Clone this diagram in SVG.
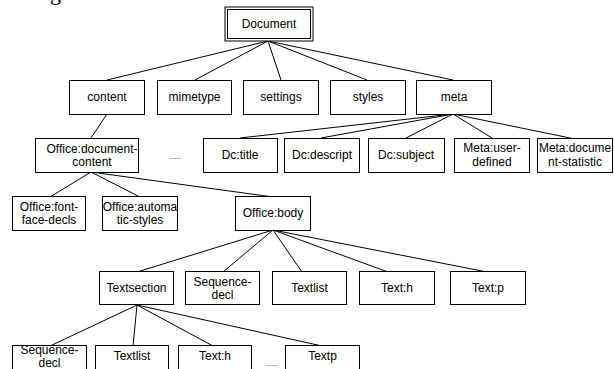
<svg xmlns="http://www.w3.org/2000/svg" width="614" height="369" viewBox="0 0 614 369">
  <style>
    .box { fill: #ffffff; stroke: #000000; stroke-width: 1; }
    .lbl { font-family: "Liberation Sans", Arial, sans-serif; font-size: 12px; fill: #000000; text-anchor: middle; }
    .dots { font-family: "Liberation Sans", Arial, sans-serif; font-size: 7px; fill: #000000; }
    #connectors line { stroke: #000000; stroke-width: 1; }
  </style>
  <rect width="614" height="369" fill="#ffffff"/>
  <!-- descender of a caption line that runs off the top -->
  <text x="50" y="0" font-family="Liberation Serif, serif" font-size="22">g</text>

  <g id="connectors">
    <line x1="268" y1="41" x2="107" y2="80"/>
    <line x1="268" y1="41" x2="195" y2="80"/>
    <line x1="268" y1="41" x2="281" y2="80"/>
    <line x1="268" y1="41" x2="367" y2="80"/>
    <line x1="268" y1="41" x2="453" y2="80"/>
    <line x1="107" y1="114" x2="91" y2="138"/>
    <line x1="453" y1="114" x2="240" y2="138"/>
    <line x1="453" y1="114" x2="321" y2="138"/>
    <line x1="453" y1="114" x2="406" y2="138"/>
    <line x1="453" y1="114" x2="492" y2="138"/>
    <line x1="453" y1="114" x2="575" y2="139"/>
    <line x1="91" y1="172" x2="50" y2="197"/>
    <line x1="91" y1="172" x2="140" y2="197"/>
    <line x1="91" y1="172" x2="273" y2="197"/>
    <line x1="273" y1="230" x2="137" y2="272"/>
    <line x1="273" y1="230" x2="223" y2="272"/>
    <line x1="273" y1="230" x2="302" y2="272"/>
    <line x1="273" y1="230" x2="388" y2="272"/>
    <line x1="273" y1="230" x2="487" y2="272"/>
    <line x1="137" y1="305" x2="50" y2="346"/>
    <line x1="137" y1="305" x2="133" y2="346"/>
    <line x1="137" y1="305" x2="213" y2="346"/>
    <line x1="137" y1="305" x2="322" y2="346"/>
  </g>

  <g id="document">
    <rect class="box" x="225" y="7" width="88" height="34"/>
    <rect x="227.5" y="9.5" width="83" height="29" fill="none" stroke="#000" stroke-width="1"/>
    <text class="lbl" x="269" y="28">Document</text>
  </g>

  <g id="content">
    <rect class="box" x="69.5" y="80.5" width="75" height="34"/>
    <text class="lbl" x="107" y="101">content</text>
  </g>
  <g id="mimetype">
    <rect class="box" x="157.5" y="80.5" width="74" height="34"/>
    <text class="lbl" x="194.5" y="101">mimetype</text>
  </g>
  <g id="settings">
    <rect class="box" x="243.5" y="80.5" width="75" height="34"/>
    <text class="lbl" x="281" y="101">settings</text>
  </g>
  <g id="styles">
    <rect class="box" x="330.5" y="80.5" width="75" height="34"/>
    <text class="lbl" x="368" y="101">styles</text>
  </g>
  <g id="meta">
    <rect class="box" x="416.5" y="80.5" width="75" height="34"/>
    <text class="lbl" x="454" y="101">meta</text>
  </g>

  <g id="office-document-content">
    <rect class="box" x="35.5" y="138.5" width="103" height="34"/>
    <text class="lbl" x="92" y="153" textLength="91" lengthAdjust="spacingAndGlyphs">Office:document-</text>
    <text class="lbl" x="92" y="166">content</text>
  </g>
  <text class="dots" x="169" y="159">......</text>

  <g id="dc-title">
    <rect class="box" x="203.5" y="138.5" width="74" height="34"/>
    <text class="lbl" x="240" y="159">Dc:title</text>
  </g>
  <g id="dc-descript">
    <rect class="box" x="284.5" y="138.5" width="75" height="34"/>
    <text class="lbl" x="322" y="159">Dc:descript</text>
  </g>
  <g id="dc-subject">
    <rect class="box" x="368.5" y="138.5" width="76" height="34"/>
    <text class="lbl" x="406" y="159">Dc:subject</text>
  </g>
  <g id="meta-user-defined">
    <rect class="box" x="454.5" y="138.5" width="75" height="34"/>
    <text class="lbl" x="492" y="152">Meta:user-</text>
    <text class="lbl" x="492" y="166">defined</text>
  </g>
  <g id="meta-document-statistic">
    <rect class="box" x="537.5" y="138.5" width="75" height="34"/>
    <text class="lbl" x="575" y="152" textLength="72" lengthAdjust="spacingAndGlyphs">Meta:docume</text>
    <text class="lbl" x="575" y="166">nt-statistic</text>
  </g>

  <g id="office-font-face-decls">
    <rect class="box" x="12.5" y="196.5" width="73" height="34"/>
    <text class="lbl" x="49" y="211">Office:font-</text>
    <text class="lbl" x="49" y="224">face-decls</text>
  </g>
  <g id="office-automatic-styles">
    <rect class="box" x="102.5" y="196.5" width="75" height="34"/>
    <text class="lbl" x="140" y="211">Office:automa</text>
    <text class="lbl" x="140" y="224">tic-styles</text>
  </g>
  <g id="office-body">
    <rect class="box" x="235.5" y="196.5" width="75" height="34"/>
    <text class="lbl" x="273" y="217">Office:body</text>
  </g>

  <g id="text-section">
    <rect class="box" x="99.5" y="271.5" width="74" height="33"/>
    <text class="lbl" x="136.5" y="292">Textsection</text>
  </g>
  <g id="sequence-decl-1">
    <rect class="box" x="185.5" y="271.5" width="74" height="33"/>
    <text class="lbl" x="222.5" y="286">Sequence-</text>
    <text class="lbl" x="222.5" y="299">decl</text>
  </g>
  <g id="text-list-1">
    <rect class="box" x="272.5" y="271.5" width="74" height="33"/>
    <text class="lbl" x="309.5" y="292">Textlist</text>
  </g>
  <g id="text-h-1">
    <rect class="box" x="359.5" y="271.5" width="75" height="33"/>
    <text class="lbl" x="397" y="292">Text:h</text>
  </g>
  <g id="text-p-1">
    <rect class="box" x="450.5" y="271.5" width="75" height="33"/>
    <text class="lbl" x="488" y="292">Text:p</text>
  </g>

  <g id="sequence-decl-2">
    <rect class="box" x="12.5" y="345.5" width="74" height="33"/>
    <text class="lbl" x="49.5" y="354">Sequence-</text>
    <text class="lbl" x="49.5" y="367">decl</text>
  </g>
  <g id="text-list-2">
    <rect class="box" x="95.5" y="345.5" width="73" height="33"/>
    <text class="lbl" x="132" y="360">Textlist</text>
  </g>
  <g id="text-h-2">
    <rect class="box" x="178.5" y="345.5" width="73" height="33"/>
    <text class="lbl" x="215" y="360">Text:h</text>
  </g>
  <text class="dots" x="266" y="366" font-size="5">......</text>
  <g id="text-p-2">
    <rect class="box" x="285.5" y="345.5" width="74" height="33"/>
    <text class="lbl" x="322.5" y="360">Textp</text>
  </g>
</svg>
